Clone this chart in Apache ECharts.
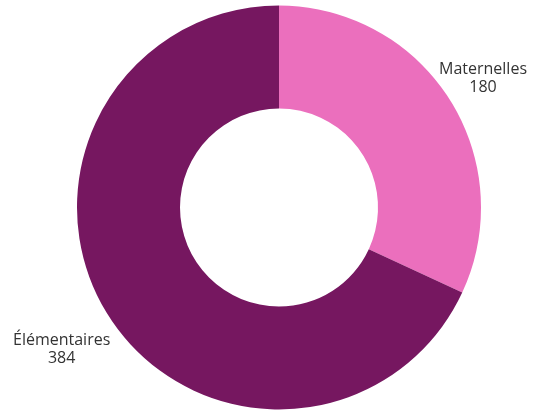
<!DOCTYPE html>
<html>
<head>
<meta charset="utf-8">
<script src="https://cdn.jsdelivr.net/npm/echarts@6/dist/echarts.min.js"></script>
<style>
html,body{margin:0;padding:0;background:#fff;}
#chart{width:543px;height:412px;}
</style>
</head>
<body>
<div id="chart"></div>
<script>
const categories = ['Maternelles', 'Élémentaires'];
const values = [180, 384];
const colors = ['#EB6FBD', '#761760'];
const labelLineLengths = [37, 61];
const edgeDistances = [16, 13];

const chart = echarts.init(document.getElementById('chart'), null, {renderer: 'canvas'});
chart.setOption({
  animation: false,
  series: [{
    type: 'pie',
    center: [279, 207.5],
    radius: [99, 202],
    startAngle: 90,
    clockwise: true,
    avoidLabelOverlap: false,
    itemStyle: {borderWidth: 0},
    label: {
      show: true,
      position: 'outside',
      alignTo: 'edge',
      formatter: p => '{a|' + p.name + '}\n{a|' + p.value + '}',
      rich: {
        a: {
          fontFamily: '"Open Sans", "Noto Sans", sans-serif',
          fontSize: 16,
          lineHeight: 18,
          color: '#333333',
          align: 'center'
        }
      }
    },
    labelLine: {show: false},
    emphasis: {disabled: true},
    data: categories.map((c, i) => ({
      name: c,
      value: values[i],
      itemStyle: {color: colors[i]},
      label: {edgeDistance: edgeDistances[i]},
      labelLine: {show: false, length: labelLineLengths[i], length2: 0}
    }))
  }]
});
</script>
</body>
</html>
